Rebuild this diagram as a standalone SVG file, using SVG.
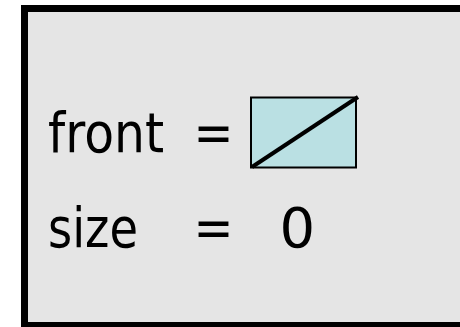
<svg xmlns="http://www.w3.org/2000/svg" width="460" height="327" viewBox="0 0 460 327">
<style>
.t{font-family:"DejaVu Sans",Verdana,sans-serif;font-size:56px;fill:#000}
</style>
<rect width="460" height="327" fill="#fff"/>
<g id="frame">
<rect x="24.5" y="8.5" width="460" height="317" fill="#e5e5e5" stroke="#000" stroke-width="7"/>
</g>
<g id="front-row">
<text class="t" x="48" y="152" textLength="116" lengthAdjust="spacingAndGlyphs">front</text>
<text class="t" x="193.5" y="152" textLength="40" lengthAdjust="spacingAndGlyphs">=</text>
</g>
<g id="null-ref">
<rect x="251" y="97.5" width="105" height="70" fill="#bae0e3" stroke="#000" stroke-width="2"/>
<line x1="252" y1="167" x2="358" y2="97" stroke="#000" stroke-width="4"/>
</g>
<g id="size-row">
<text class="t" x="48" y="247" textLength="90" lengthAdjust="spacingAndGlyphs">size</text>
<text class="t" x="193.5" y="247" textLength="40" lengthAdjust="spacingAndGlyphs">=</text>
<text class="t" x="279.5" y="247">0</text>
</g>
<g id="connectors"></g>
</svg>
